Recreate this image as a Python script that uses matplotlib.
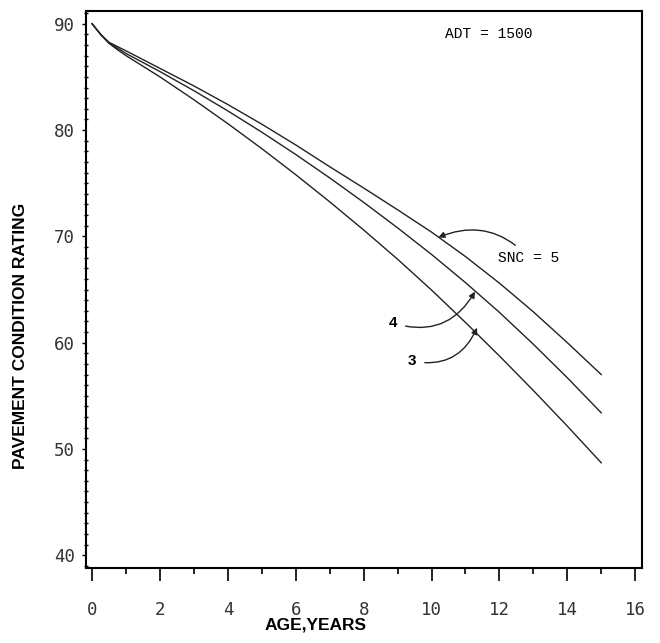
import matplotlib
matplotlib.use("Agg")
import matplotlib.pyplot as plt
from matplotlib.ticker import MultipleLocator

# pavement condition rating vs. age, ADT = 1500
age = [0, 0.25, 0.5, 0.75, 1, 2, 3, 4, 5, 6, 7, 8, 9, 10, 11, 12, 13, 14, 15]
snc_5 = [90, 89.0, 88.25, 87.85, 87.45, 85.8, 84.15, 82.4, 80.55, 78.6, 76.55,
         74.55, 72.5, 70.4, 68.1, 65.6, 62.9, 60.0, 57.0]
snc_4 = [90, 89.0, 88.2, 87.7, 87.2, 85.5, 83.7, 81.8, 79.8, 77.7, 75.5,
         73.2, 70.8, 68.3, 65.65, 62.85, 59.85, 56.7, 53.4]
snc_3 = [90, 89.0, 88.15, 87.55, 87.0, 85.0, 82.85, 80.6, 78.25, 75.8, 73.25,
         70.6, 67.85, 64.95, 61.9, 58.75, 55.5, 52.15, 48.7]

tick_font = "DejaVu Sans Mono"
label_font = "Liberation Sans"
note_font = "Liberation Mono"

fig = plt.figure(figsize=(6.6, 6.43), dpi=100)
ax = fig.add_axes([0.1303, 0.1166, 0.8424, 0.8663])

for values in (snc_5, snc_4, snc_3):
    ax.plot(age, values, color="#222222", lw=1.0)

ax.set_xlim(-0.18, 16.2)
ax.set_ylim(38.8, 91.2)

ax.xaxis.set_major_locator(MultipleLocator(2))
ax.xaxis.set_minor_locator(MultipleLocator(1))
ax.yaxis.set_major_locator(MultipleLocator(10))
ax.yaxis.set_minor_locator(MultipleLocator(1))

ax.tick_params(axis="x", which="major", direction="out", length=9, width=1.2, pad=15)
ax.tick_params(axis="x", which="minor", direction="out", length=4.5, width=1.2)
ax.tick_params(axis="y", which="major", direction="out", length=3, width=1.0, pad=5)
ax.tick_params(axis="y", which="minor", direction="inout", length=2.5, width=1.0)

for lab in ax.get_xticklabels() + ax.get_yticklabels():
    lab.set_fontfamily(tick_font)
    lab.set_fontsize(12.5)
    lab.set_color("#333333")

for side in ("left", "right", "top", "bottom"):
    ax.spines[side].set_linewidth(1.5)

ax.set_xlabel("AGE,YEARS", fontfamily=label_font, fontweight="bold", fontsize=12.5)
ax.set_ylabel("PAVEMENT CONDITION RATING", fontfamily=label_font, fontweight="bold", fontsize=12.5)
ax.xaxis.set_label_coords(0.412, -0.089)
ax.yaxis.set_label_coords(-0.104, 0.4165)

ax.text(11.7, 89.0, "ADT = 1500", fontfamily=note_font, fontsize=10.5, ha="center", va="center")

arrow = dict(arrowstyle="-|>", color="#222222", lw=1.0, mutation_scale=9, shrinkA=0, shrinkB=0)

ax.annotate("SNC = 5", xy=(10.2, 69.9), xytext=(11.96, 68.0),
            fontfamily=note_font, fontsize=10.5, ha="left", va="center",
            arrowprops=dict(arrow, connectionstyle="arc3,rad=0.35", shrinkA=3))
ax.annotate("4", xy=(11.28, 64.8), xytext=(8.87, 61.85),
            fontfamily=label_font, fontweight="bold", fontsize=11, ha="center", va="center",
            arrowprops=dict(arrow, connectionstyle="arc3,rad=0.4", shrinkA=4))
ax.annotate("3", xy=(11.34, 61.4), xytext=(9.43, 58.27),
            fontfamily=label_font, fontweight="bold", fontsize=11, ha="center", va="center",
            arrowprops=dict(arrow, connectionstyle="arc3,rad=0.4", shrinkA=4))

fig.savefig("out.png", dpi=100)
